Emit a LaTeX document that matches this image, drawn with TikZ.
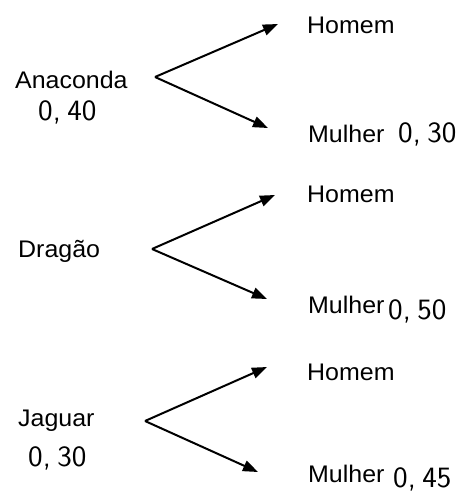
\documentclass[tikz,border=0pt]{standalone}
\usepackage{fontspec}
\setmainfont{Liberation Sans}[FakeStretch=1.04]
\newfontfamily\numfont{Latin Modern Sans}[FakeStretch=1.05]
\newcommand\cs{,\hspace{0.22em}}
\usetikzlibrary{arrows.meta}
\tikzset{
  lbl/.style={anchor=base west, inner sep=0pt, font=\fontsize{24}{28}\selectfont},
  num/.style={anchor=base west, inner sep=0pt, font=\numfont\fontsize{29.5}{34}\selectfont},
  branch/.style={line width=2pt, -{Triangle[length=15pt,width=11pt]}}
}
\begin{document}
\begin{tikzpicture}[x=1pt,y=-1pt]
\useasboundingbox (0,0) rectangle (461,496);
% Branch 1
\node[lbl] (ana) at (15,88) {Anaconda};
\node[num] (ana-p) at (38,120) {0\cs40};
\coordinate (v1) at (155,77);
\coordinate (h1t) at (278,24);
\coordinate (m1t) at (268,128);
\node[lbl] (h1) at (307,33) {Homem};
\node[lbl] (m1) at (308,142) {Mulher};
\node[num] (m1-p) at (398,142) {0\cs30};
\draw[branch] (v1) -- (h1t);
\draw[branch] (v1) -- (m1t);
% Branch 2
\node[lbl] (dra) at (18,257) {Dragão};
\coordinate (v2) at (152,249);
\coordinate (h2t) at (275,195);
\coordinate (m2t) at (267,299);
\node[lbl] (h2) at (307,202) {Homem};
\node[lbl] (m2) at (308,313) {Mulher};
\node[num] (m2-p) at (388,319) {0\cs50};
\draw[branch] (v2) -- (h2t);
\draw[branch] (v2) -- (m2t);
% Branch 3
\node[lbl] (jag) at (18,426) {Jaguar};
\node[num] (jag-p) at (28,466) {0\cs30};
\coordinate (v3) at (145,421);
\coordinate (h3t) at (267,367);
\coordinate (m3t) at (258,472);
\node[lbl] (h3) at (307,380) {Homem};
\node[lbl] (m3) at (308,482) {Mulher};
\node[num] (m3-p) at (393,487) {0\cs45};
\draw[branch] (v3) -- (h3t);
\draw[branch] (v3) -- (m3t);
\end{tikzpicture}
\end{document}
